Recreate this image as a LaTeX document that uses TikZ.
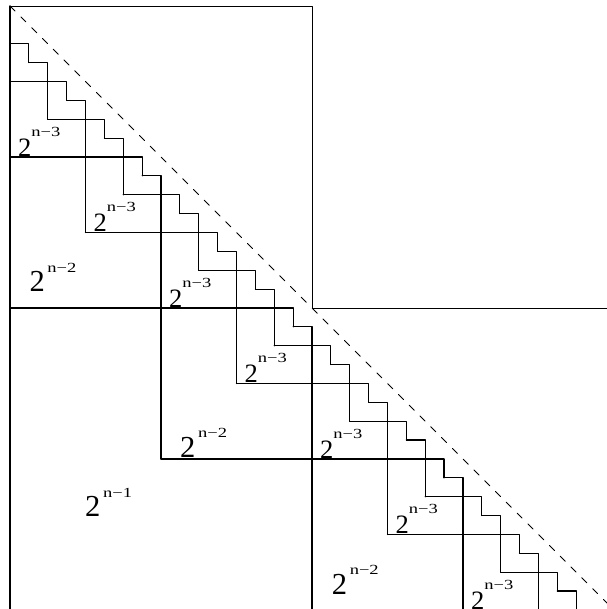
\documentclass[tikz,border=0pt]{standalone}
\usepackage{fontspec}
\setmainfont{Liberation Serif}
\newfontfamily\tms{Liberation Serif}
\usepackage{graphicx}
% power of two label: size of the 2, gap, exponent offset
\newcommand{\pw}[3]{\tms{\fontsize{#1}{#1}\selectfont 2}\hspace{#2}\raisebox{15pt}{\scalebox{1.33}[1]{\fontsize{10.5}{10.5}\selectfont n−#3}}}

\begin{document}
\begin{tikzpicture}[x=0.5cm,y=-0.5cm,line cap=round,line join=round,
  stair/.style={line width=0.9pt},
  box/.style={line width=0.6pt},
  lbl/.style={anchor=base west,inner sep=0pt,font=\tms}]
  \useasboundingbox (-0.53,-0.318) rectangle (31.63,31.95);
  \clip (-0.53,-0.318) rectangle (31.63,31.95);
  \coordinate (O) at (0,0);
  \coordinate (M) at (16,16);
  \coordinate (E) at (32,32);
  \draw[stair] (O) -- (0,32);
  \draw[box] (O) -- (16,0) -- (M) -- (32,16);
  \draw[line width=0.6pt,dash pattern=on 5.5pt off 6pt] (O) -- (E);
  % staircases of step 1, 2, 4, 8
  \foreach \s in {1,2,4,8}{
    \pgfmathtruncatemacro{\m}{32/\s-1}
    \foreach \k in {0,...,\m}
      \draw[stair] (\k*\s,2*\s+\k*\s) -- ++(\s,0) -- ++(0,\s);
  }
  \node[lbl] (p1) at (3.97,27.07) {\pw{23pt}{2pt}{1}};
  \node[lbl] (p2a) at (1.02,15.15) {\pw{23pt}{2pt}{2}};
  \node[lbl] (p2b) at (9.0,23.93) {\pw{23pt}{2pt}{2}};
  \node[lbl] (p2c) at (17.04,31.17) {\pw{23pt}{2pt}{2}};
  \foreach \k in {0,...,6}
    \node[lbl] (p3\k) at (0.42+4*\k,7.95+4*\k) {\pw{20pt}{0pt}{3}};
\end{tikzpicture}
\end{document}
